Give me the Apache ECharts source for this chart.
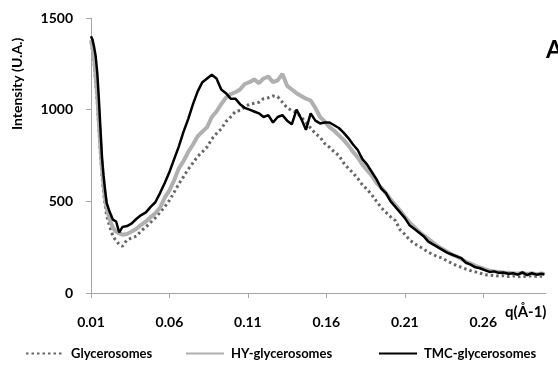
<!DOCTYPE html>
<html>
<head>
<meta charset="utf-8">
<script src="https://cdn.jsdelivr.net/npm/echarts@6/dist/echarts.min.js"></script>
<style>
html,body{margin:0;padding:0;background:#fff;}
#c{width:558px;height:367px;}
</style>
</head>
<body>
<div id="c"></div>
<script>
var seriesNames = ['Glycerosomes', 'HY-glycerosomes', 'TMC-glycerosomes'];
var yTicks = [0, 500, 1000, 1500];
var xTicks = [0.01, 0.06, 0.11, 0.16, 0.21, 0.26];

var q = [0.010,0.011,0.012,0.013,0.014,0.015,0.016,0.017,0.018,0.019,0.020,0.022,0.024,0.026,0.028,0.030,
0.033,0.036,0.039,0.042,0.045,0.048,0.051,0.054,0.057,0.060,0.063,0.066,0.069,0.072,0.075,0.078,0.081,0.084,0.087,0.090,
0.093,0.096,0.099,0.102,0.105,0.108,0.111,0.114,0.117,0.120,0.123,0.126,0.129,0.132,0.135,0.138,0.141,0.144,0.147,0.150,
0.153,0.156,0.159,0.162,0.165,0.168,0.171,0.174,0.177,0.180,0.183,0.186,0.189,0.192,0.195,0.198,0.201,0.204,0.207,0.210,
0.213,0.216,0.219,0.222,0.225,0.228,0.231,0.234,0.237,0.240,0.243,0.246,0.249,0.252,0.255,0.258,0.261,0.264,0.267,0.270,
0.273,0.276,0.279,0.282,0.285,0.288,0.291,0.294,0.297,0.299];

var glycerosomes = [1370,1320,1250,1150,1040,900,760,640,550,480,420,360,310,285,265,255,
290,300,310,340,360,385,410,440,470,505,550,595,635,675,710,745,770,796,840,870,
895,935,960,990,995,1015,1030,1035,1040,1060,1065,1075,1070,1040,1010,995,985,960,930,900,
870,850,815,795,770,750,710,680,655,625,590,565,535,500,465,440,415,395,345,320,
290,270,255,240,222,210,198,190,175,162,150,140,130,122,115,108,100,98,95,92,
95,90,93,88,92,90,94,90,92,90];

var hyGlycerosomes = [1380,1340,1280,1180,1080,940,800,680,590,520,460,400,355,335,325,318,
322,335,350,372,390,414,435,465,520,560,615,680,720,770,810,855,880,905,960,990,
1030,1065,1085,1095,1110,1140,1150,1165,1145,1170,1180,1150,1160,1195,1130,1110,1090,1075,1060,1050,
1010,960,935,905,885,860,835,805,770,740,700,670,640,600,575,545,510,480,450,415,
385,360,335,315,295,275,255,240,225,210,200,185,170,160,148,140,130,122,118,115,
112,110,108,105,110,104,108,103,106,104];

var tmcGlycerosomes = [1400,1380,1340,1290,1200,1060,900,740,640,560,490,440,400,390,330,360,
365,380,405,425,440,470,495,545,600,660,730,800,880,950,1030,1100,1150,1170,1190,1170,
1110,1090,1060,1060,1030,1010,1000,990,980,960,970,930,960,970,940,920,1000,950,890,980,
940,925,930,930,915,900,875,845,810,780,730,700,660,620,570,545,500,470,440,410,
370,350,330,310,280,265,250,235,220,210,200,190,165,155,140,135,125,115,118,110,
112,105,108,100,112,98,108,100,105,102];

function pairs(vals){ return q.map(function(x,i){ return [x, vals[i]]; }); }

var FONT = 'Lato, "Liberation Sans", sans-serif';
var chart = echarts.init(document.getElementById('c'), null, {renderer:'canvas'});
var axisColor = '#a6a6a6';

function legendFor(name, left){
  return {
    data:[name], left:left, top:347, padding:0, itemWidth:38, itemHeight:10, itemGap:0,
    itemStyle:{opacity:0},
    textStyle:{fontFamily:FONT, fontWeight:'bold', fontSize:13, color:'#000', padding:[0,0,0,2]}
  };
}

chart.setOption({
  animation:false,
  backgroundColor:'#fff',
  grid:{left:91, right:12, top:18, bottom:74, containLabel:false},
  legend:[legendFor(seriesNames[0], 25), legendFor(seriesNames[1], 185), legendFor(seriesNames[2], 378)],
  xAxis:{
    type:'value', min:xTicks[0], max:0.30, interval:0.05,
    axisLine:{show:true, onZero:false, lineStyle:{color:axisColor, width:1}},
    axisTick:{show:true, length:5, lineStyle:{color:axisColor}},
    splitLine:{show:false},
    axisLabel:{showMaxLabel:false, margin:22, fontFamily:FONT, fontWeight:'bold', fontSize:14, color:'#000',
      formatter:function(v){ return v.toFixed(2); }}
  },
  yAxis:{
    type:'value', min:yTicks[0], max:yTicks[yTicks.length-1], interval:500,
    axisLine:{show:true, lineStyle:{color:axisColor, width:1}},
    axisTick:{show:true, length:5, lineStyle:{color:axisColor}},
    splitLine:{show:false},
    axisLabel:{margin:18, fontFamily:FONT, fontWeight:'bold', fontSize:14, color:'#000',
      formatter:function(v){ return String(v); }}
  },
  graphic:[
    {type:'text', left:505, top:305, style:{text:'q(Å-1)', fontFamily:FONT, fontWeight:'bold', fontSize:15, fill:'#000'}},
    {type:'text', left:546, top:38, style:{text:'A', fontFamily:FONT, fontWeight:'bold', fontSize:24, fill:'#000'}},
    {type:'text', x:10, y:130, rotation:Math.PI/2, style:{text:'Intensity (U.A.)', fontFamily:FONT, fontWeight:'bold', fontSize:14, fill:'#000', textVerticalAlign:'top'}}
  ],
  series:[
    {name:seriesNames[0], type:'line', data:pairs(glycerosomes), symbol:'none', clip:true,
     lineStyle:{color:'#666666', width:3, type:[2.5,3]}, itemStyle:{color:'#666666'}},
    {name:seriesNames[1], type:'line', data:pairs(hyGlycerosomes), symbol:'none', clip:true,
     lineStyle:{color:'#b0b0b0', width:4}, itemStyle:{color:'#b0b0b0'}},
    {name:seriesNames[2], type:'line', data:pairs(tmcGlycerosomes), symbol:'none', clip:true,
     lineStyle:{color:'#000000', width:2.5}, itemStyle:{color:'#000000'}}
  ]
});
</script>
</body>
</html>
